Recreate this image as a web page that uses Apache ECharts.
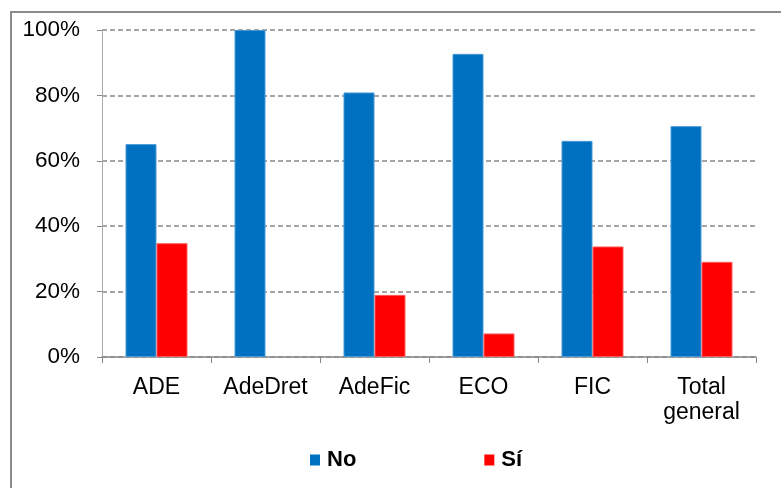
<!DOCTYPE html>
<html>
<head>
<meta charset="utf-8">
<script src="https://cdn.jsdelivr.net/npm/echarts@6/dist/echarts.min.js"></script>
<style>
html,body{margin:0;padding:0;background:#fff;}
#chart{width:781px;height:488px;}
</style>
</head>
<body>
<div id="chart"></div>
<script>
var categories = ['ADE', 'AdeDret', 'AdeFic', 'ECO', 'FIC', 'Total\ngeneral'];
var seriesNames = ['No', 'Sí'];
var noValues = [65.1, 100, 80.9, 92.7, 66.1, 70.6];
var siValues = [34.8, 0, 19.0, 7.2, 33.8, 29.1];
var yTicks = [0, 20, 40, 60, 80, 100];

function withBorder(values, borderColor) {
  return values.map(function (v) {
    return {value: v, itemStyle: {borderColor: borderColor, borderWidth: v > 0 ? 1 : 0}};
  });
}

var chart = echarts.init(document.getElementById('chart'), null, {renderer: 'canvas'});
var font = 'Liberation Sans, Arial, sans-serif';
chart.setOption({
  animation: false,
  backgroundColor: '#fff',
  graphic: [{
    type: 'rect',
    shape: {x: 11, y: 12, width: 800, height: 500},
    style: {fill: 'none', stroke: '#8c8c8c', lineWidth: 2},
    silent: true, z: -1
  }],
  grid: {left: 102, top: 30, width: 654, height: 327, containLabel: false},
  legend: {
    data: seriesNames,
    left: 305, top: 444,
    itemWidth: 10, itemHeight: 11,
    itemGap: 128,
    icon: 'rect',
    textStyle: {fontFamily: font, fontSize: 22, fontWeight: 'bold', color: '#000', padding: [0, 0, 0, 2]}
  },
  xAxis: {
    type: 'category',
    data: categories,
    axisLine: {lineStyle: {color: '#888', width: 1.5}},
    axisTick: {show: true, interval: 0, length: 6, lineStyle: {color: '#888'}},
    axisLabel: {interval: 0, hideOverlap: false, fontFamily: font, fontSize: 23, color: '#000', margin: 18, lineHeight: 25, verticalAlign: 'top'}
  },
  yAxis: {
    type: 'value',
    min: yTicks[0], max: yTicks[yTicks.length - 1], interval: 20,
    axisLine: {show: true, lineStyle: {color: '#aaa', width: 1}},
    axisTick: {show: true, length: 5, lineStyle: {color: '#888'}},
    axisLabel: {fontFamily: font, fontSize: 22.5, color: '#000', margin: 22, formatter: '{value}%'},
    splitLine: {lineStyle: {color: '#888', width: 1.5, type: [5, 3]}}
  },
  series: [
    {name: seriesNames[0], type: 'bar', data: withBorder(noValues, '#4a9ad8'), barWidth: 31, barGap: '0%',
     itemStyle: {color: '#0070C0'}},
    {name: seriesNames[1], type: 'bar', data: withBorder(siValues, '#ff5a5a'), barWidth: 31, barGap: '0%',
     itemStyle: {color: '#FF0000'}}
  ]
});
</script>
</body>
</html>
